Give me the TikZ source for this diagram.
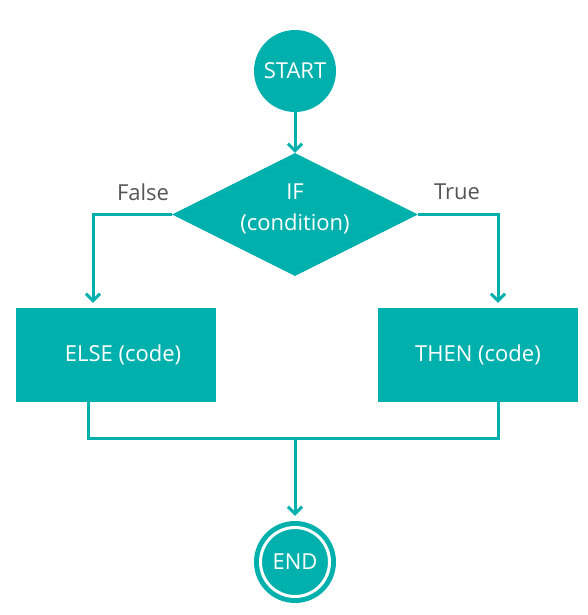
\documentclass[tikz,border=0pt]{standalone}
\usepackage{fontspec}
\setmainfont{Open Sans}
\usetikzlibrary{shapes.geometric,arrows.meta}
\definecolor{tealc}{HTML}{00B0AD}
\definecolor{labelc}{HTML}{555555}
\begin{document}
\begin{tikzpicture}[x=1pt,y=-1pt,
  every node/.style={font=\fontsize{22}{31}\selectfont},
  filled/.style={fill=tealc,draw=none,text=white,inner sep=0pt},
  roundbox/.style={filled,circle,minimum size=82pt},
  decision/.style={filled,diamond,aspect=2,minimum width=246pt,minimum height=123pt,align=center,text depth=15pt},
  codebox/.style={filled,rectangle,minimum width=200pt,minimum height=94pt},
  line/.style={draw=tealc,line width=3pt},
  conn/.style={line,-{Straight Barb[length=7pt,width=14pt,line width=3pt]}},
  lbl/.style={text=labelc}]
\useasboundingbox (0,0) rectangle (588,615);
\node[roundbox] (start) at (295,71) {START};
\node[decision] (if) at (295,214.5) {IF\\(condition)};
\node[codebox] (else) at (116,355) {\hspace*{14pt}ELSE (code)};
\node[codebox] (then) at (478,355) {THEN (code)};
\node[roundbox] (end) at (295,562) {END};
\draw[white,line width=3pt] (end.center) circle (34.5);
\coordinate (join) at (295,438);
\draw[conn] (start) -- (if);
\draw[conn,shorten >=5pt] (if.west) -| ([xshift=-23pt]else.north);
\draw[conn,shorten >=5pt] (if.east) -| ([xshift=20pt]then.north);
\draw[line] ([xshift=-28pt]else.south) |- (join) -| ([xshift=20pt]then.south);
\draw[conn,shorten >=5pt] (join) -- (end);
\node[lbl] (false) at (143,192) {False};
\node[lbl] (true) at (457,192) {True};
\end{tikzpicture}
\end{document}
